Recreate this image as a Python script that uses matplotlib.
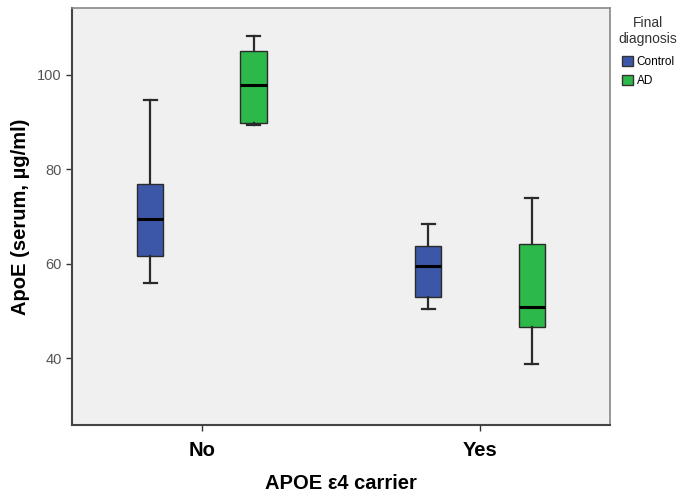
import matplotlib.pyplot as plt
from matplotlib.patches import Patch

plt.rcParams['font.family'] = ['Liberation Sans', 'DejaVu Sans']

# five-number summaries per group (whisker low, Q1, median, Q3, whisker high)
carrier = ['No', 'Yes']
groups = ['Control', 'AD']
colors = ['#3D57A8', '#2DB84A']
control_stats = [[56.0, 61.7, 69.6, 77.0, 94.6],
                 [50.4, 52.9, 59.5, 63.7, 68.4]]
ad_stats = [[89.5, 89.8, 97.8, 105.1, 108.3],
            [38.9, 46.6, 50.9, 64.3, 73.9]]
yticks = [40, 60, 80, 100]

fig = plt.figure(figsize=(6.82, 4.93), dpi=100)
ax = fig.add_axes([0.106, 0.137, 0.788, 0.847])
ax.set_facecolor('#F0F0F0')

offset = 0.186
width = 0.094
for gi, (stats, col) in enumerate(zip([control_stats, ad_stats], colors)):
    bxp = []
    for s in stats:
        bxp.append(dict(whislo=s[0], q1=s[1], med=s[2], q3=s[3], whishi=s[4], fliers=[]))
    pos = [i + (offset if gi else -offset) for i in range(len(carrier))]
    ax.bxp(bxp, positions=pos, widths=width, patch_artist=True, showfliers=False,
           boxprops=dict(facecolor=col, edgecolor='#2a2a2a', linewidth=1),
           medianprops=dict(color='black', linewidth=2.2),
           whiskerprops=dict(color='#2a2a2a', linewidth=1.6),
           capprops=dict(color='#2a2a2a', linewidth=1.6),
           capwidths=width / 2)

ax.set_xlim(-0.466, 1.467)
ax.set_ylim(25.8, 114.2)
ax.set_xticks(range(len(carrier)))
ax.set_xticklabels(carrier, fontsize=14.5, fontweight='bold')
ax.set_yticks(yticks)
ax.set_yticklabels([str(t) for t in yticks], fontsize=10.5, color='#555555')
ax.tick_params(axis='both', length=4, width=1, color='#333333')
ax.tick_params(axis='x', pad=7)

for side in ['left', 'bottom']:
    ax.spines[side].set_color('#444444')
    ax.spines[side].set_linewidth(1.5)
for side in ['top', 'right']:
    ax.spines[side].set_color('#888888')
    ax.spines[side].set_linewidth(1.2)

ax.set_xlabel('APOE ε4 carrier', fontsize=14.5, fontweight='bold', labelpad=10)
ax.set_ylabel('ApoE (serum, µg/ml)', fontsize=14.5, fontweight='bold', labelpad=5)

# legend title drawn separately so it sits centred above the swatches
fig.text(0.950, 1 - 31 / 493, 'Final\ndiagnosis', ha='center', va='center',
         fontsize=10, color='#333333', linespacing=1.1)
handles = [Patch(facecolor=c, edgecolor='#333333', label=g) for g, c in zip(groups, colors)]
fig.legend(handles=handles, loc='upper left',
           bbox_to_anchor=(0.912, 1 - 56 / 493), frameon=False, fontsize=8.5,
           handlelength=0.95, handleheight=0.95, handletextpad=0.3,
           borderaxespad=0, borderpad=0, labelspacing=0.55)

fig.savefig('out.png', dpi=100)
